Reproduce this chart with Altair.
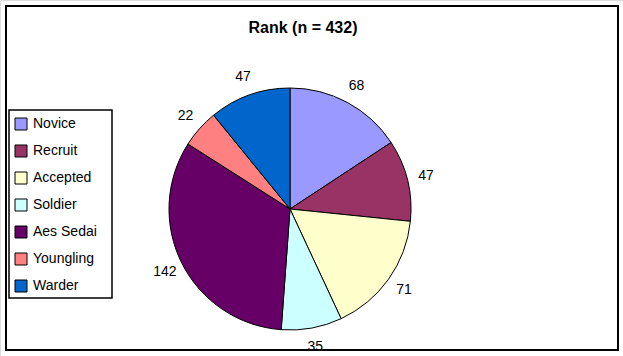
import altair as alt
import pandas as pd

ranks = ["Novice", "Recruit", "Accepted", "Soldier", "Aes Sedai", "Youngling", "Warder"]
counts = [68, 47, 71, 35, 142, 22, 47]
colors = ["#9999FF", "#993366", "#FFFFCC", "#CCFFFF", "#660066", "#FF8080", "#0066CC"]
title_text = "Rank (n = 432)"

FONT = "Liberation Sans"

df = pd.DataFrame({"rank": ranks, "count": counts, "order": list(range(len(ranks)))})
one = pd.DataFrame({"t": [title_text]})

frame = alt.Chart(one).mark_rect(fill="white", stroke="black", strokeWidth=2).encode(
    x=alt.value(6), x2=alt.value(618), y=alt.value(6), y2=alt.value(350)
)

legend_box = alt.Chart(one).mark_rect(fill="white", stroke="black", strokeWidth=1.5).encode(
    x=alt.value(9), x2=alt.value(112), y=alt.value(110), y2=alt.value(298)
)

title = alt.Chart(one).mark_text(
    font=FONT, fontSize=16, fontWeight="bold", color="black", baseline="middle"
).encode(text="t:N", x=alt.value(303), y=alt.value(28))

base = alt.Chart(df).encode(
    theta=alt.Theta("count:Q", stack=True),
    order=alt.Order("order:Q"),
    x=alt.value(290),
    y=alt.value(209),
)

pie = base.mark_arc(outerRadius=121, stroke="black", strokeWidth=1).encode(
    color=alt.Color(
        "rank:N",
        sort=ranks,
        scale=alt.Scale(domain=ranks, range=colors),
        legend=alt.Legend(
            title=None,
            orient="none",
            legendX=7,
            legendY=110,
            padding=7,
            symbolType="square",
            symbolSize=144,
            symbolStrokeColor="black",
            symbolStrokeWidth=1,
            symbolOpacity=1,
            labelFont=FONT,
            labelFontSize=14,
            labelColor="black",
            labelOffset=5,
            rowPadding=11,
        ),
    )
)

labels = base.mark_text(
    radius=140, font=FONT, fontSize=14, color="black", baseline="middle"
).encode(text="count:Q")

chart = alt.layer(frame, legend_box, title, pie, labels).properties(
    width=623, height=356, padding=0, autosize=alt.AutoSizeParams(type="none")
).configure_view(stroke=None).configure(background="white")

chart.save("out.html", embed_options={"renderer": "svg", "actions": False})
